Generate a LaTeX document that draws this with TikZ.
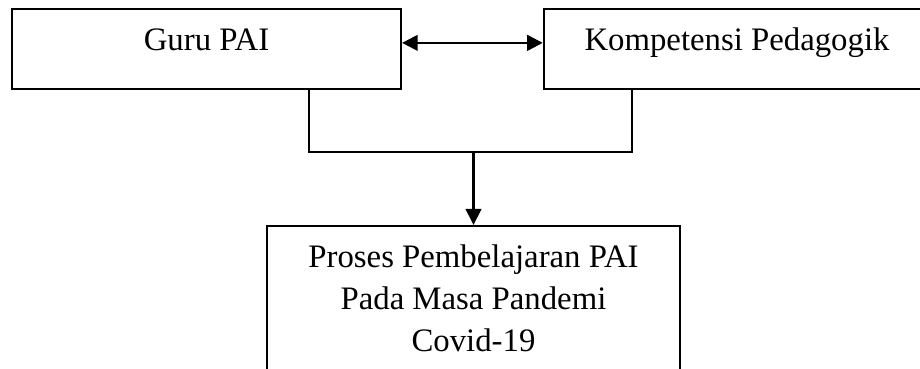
\documentclass[tikz,border=0pt]{standalone}
\usepackage{fontspec}
\setmainfont{Liberation Serif}
\usetikzlibrary{arrows.meta}

\begin{document}
\begin{tikzpicture}[x=0.36pt,y=-0.36pt,
    box/.style={draw,line width=0.85pt,inner sep=0pt,
      font=\fontsize{11.8pt}{15.1pt}\selectfont},
    link/.style={line width=0.85pt},
    oneway/.style={-{Triangle[length=5.8pt,width=5.6pt]}},
    twoway/.style={{Triangle[length=5.6pt,width=5.6pt]}-{Triangle[length=5.6pt,width=5.6pt]}}]
  \clip (0,0) rectangle (920,369);
  \node[box,minimum width=140pt,text height=14.8pt,text depth=14pt]
    (guru) at (206.5,49) {Guru PAI};
  \node[box,minimum width=139pt,text height=14.8pt,text depth=14pt]
    (komp) at (737,49) {Kompetensi Pedagogik};
  \node[box,anchor=north,align=center,minimum width=148.7pt,
    text height=45pt,text depth=14pt]
    (proses) at (473.5,225)
    {Proses Pembelajaran PAI\\Pada Masa Pandemi\\Covid-19};
  \draw[link,twoway] ([yshift=2.2pt]guru.east) -- ([yshift=2.2pt]komp.west);
  % join of the two upper boxes
  \coordinate (lft) at (309,152);
  \coordinate (rgt) at (632,152);
  \coordinate (mid) at (473.5,152);
  \draw[link] (lft |- guru.south) -- (lft) -- (rgt) -- (rgt |- komp.south);
  \draw[link,oneway] (mid) -- (proses.north);
\end{tikzpicture}
\end{document}
